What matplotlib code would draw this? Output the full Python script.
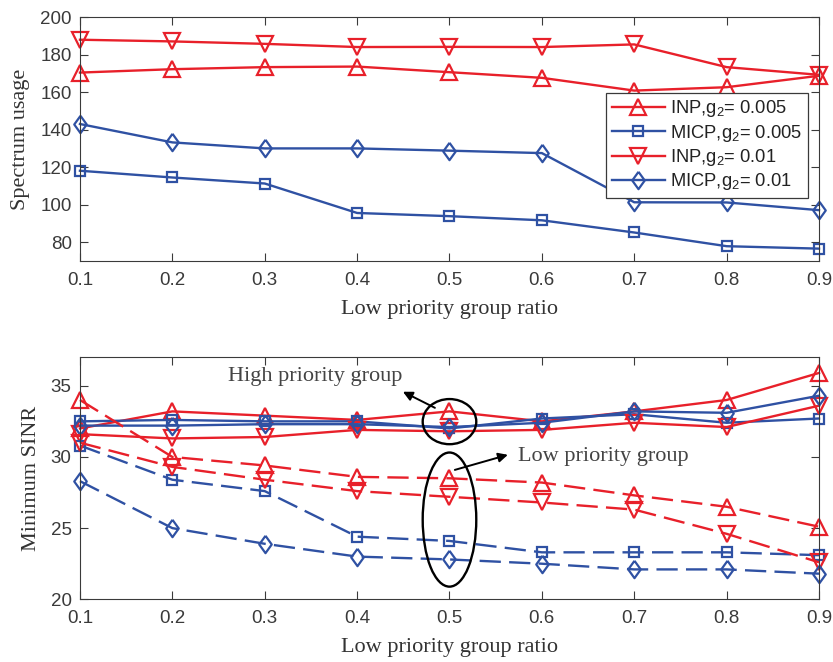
import numpy as np
import matplotlib
matplotlib.use("Agg")
import matplotlib.pyplot as plt
from matplotlib.patches import Ellipse

plt.rcParams['font.family'] = ['Liberation Sans', 'DejaVu Sans']
plt.rcParams['mathtext.fontset'] = 'custom'
plt.rcParams['mathtext.rm'] = 'Liberation Sans'
plt.rcParams['mathtext.it'] = 'Liberation Sans:italic'

# ---- data ----
ratio = [0.1, 0.2, 0.3, 0.4, 0.5, 0.6, 0.7, 0.8, 0.9]

# spectrum usage
usage_inp_005 = [170.4, 172.2, 173.3, 173.6, 170.6, 167.6, 160.8, 162.6, 168.7]
usage_micp_005 = [118.1, 114.5, 111.3, 95.6, 93.9, 91.7, 85.2, 77.9, 76.6]
usage_inp_01 = [187.9, 187.0, 185.7, 184.0, 184.1, 184.0, 185.4, 173.3, 169.2]
usage_micp_01 = [143.0, 133.2, 130.0, 130.0, 128.8, 127.5, 101.3, 101.2, 97.1]

# minimum SINR, high priority group (solid)
sinr_inp_005_high = [32.0, 33.2, 32.9, 32.6, 33.2, 32.5, 33.2, 34.0, 35.9]
sinr_micp_005_high = [32.5, 32.6, 32.5, 32.5, 32.0, 32.7, 33.0, 32.4, 32.7]
sinr_inp_01_high = [31.6, 31.3, 31.4, 31.9, 31.8, 31.9, 32.4, 32.1, 33.6]
sinr_micp_01_high = [32.2, 32.2, 32.3, 32.3, 32.1, 32.4, 33.2, 33.1, 34.3]

# minimum SINR, low priority group (dashed)
sinr_inp_005_low = [34.0, 30.0, 29.4, 28.6, 28.5, 28.2, 27.3, 26.5, 25.1]
sinr_micp_005_low = [30.8, 28.4, 27.6, 24.4, 24.1, 23.3, 23.3, 23.3, 23.1]
sinr_inp_01_low = [31.0, 29.3, 28.4, 27.6, 27.2, 26.8, 26.3, 24.6, 22.6]
sinr_micp_01_low = [28.3, 25.0, 23.9, 23.0, 22.8, 22.5, 22.1, 22.1, 21.8]

labels = ['INP,g$_\\mathrm{2}$= 0.005', 'MICP,g$_\\mathrm{2}$= 0.005',
          'INP,g$_\\mathrm{2}$= 0.01', 'MICP,g$_\\mathrm{2}$= 0.01']

# ---- style ----
red = '#e8202a'
blue = '#2f51a3'
axcol = '#3a3a3a'
diamond = [(0, 1), (0.72, 0), (0, -1), (-0.72, 0), (0, 1)]
styles = [
    dict(color=red, marker='^', ms=11.5),
    dict(color=blue, marker='s', ms=7.5),
    dict(color=red, marker='v', ms=11.5),
    dict(color=blue, marker=diamond, ms=12.5),
]
dash = (9, 3.5)

fig = plt.figure(figsize=(8.33, 6.62), dpi=100)
ax1 = fig.add_axes([0.096, 0.6057, 0.8872, 0.3686])
ax2 = fig.add_axes([0.096, 0.0947, 0.8872, 0.3656])


def draw_line(ax, y, st, dashed=False, label=None):
    line, = ax.plot(ratio, y, color=st['color'], marker=st['marker'],
                    ms=st['ms'], mfc='none', mew=1.6, lw=1.7,
                    clip_on=False, label=label)
    if dashed:
        line.set_dashes(dash)
    return line


# top panel
for y, st, lab in zip([usage_inp_005, usage_micp_005, usage_inp_01, usage_micp_01],
                      styles, labels):
    draw_line(ax1, y, st, label=lab)

leg = ax1.legend(loc='upper right', bbox_to_anchor=(0.985, 0.689),
                 borderaxespad=0, fancybox=False, framealpha=1,
                 edgecolor=axcol, fontsize=13.2, handlelength=2.9,
                 labelspacing=0.18, borderpad=0.3, handletextpad=0.3)
leg.get_frame().set_linewidth(0.9)
for t in leg.get_texts():
    t.set_color('#222222')

ax1.set_ylim(70, 200)
ax1.set_yticks([80, 100, 120, 140, 160, 180, 200])
ax1.set_ylabel('Spectrum usage', family='Liberation Serif', fontsize=16,
               color='#333333', va='center')
ax1.yaxis.set_label_coords(-0.081, 0.5)
ax1.set_xlabel('Low priority group ratio', family='Liberation Serif',
               fontsize=16, color='#333333', va='center')
ax1.xaxis.set_label_coords(0.5, -0.2)

# bottom panel
high = [sinr_inp_005_high, sinr_micp_005_high, sinr_inp_01_high, sinr_micp_01_high]
low = [sinr_inp_005_low, sinr_micp_005_low, sinr_inp_01_low, sinr_micp_01_low]
for y, st in zip(high, styles):
    draw_line(ax2, y, st)
for y, st in zip(low, styles):
    draw_line(ax2, y, st, dashed=True)

ax2.set_ylim(20, 37)
ax2.set_yticks([20, 25, 30, 35])
ax2.set_ylabel('Minimum SINR', family='Liberation Serif', fontsize=16,
               color='#333333', va='center')
ax2.yaxis.set_label_coords(-0.065, 0.5)
ax2.set_xlabel('Low priority group ratio', family='Liberation Serif',
               fontsize=16, color='#333333', va='center')
ax2.xaxis.set_label_coords(0.5, -0.201)

# annotations
ax2.add_patch(Ellipse((0.5, 32.48), 0.058, 3.17, fill=False, ec='k', lw=1.7,
                      zorder=5))
ax2.add_patch(Ellipse((0.5, 25.6), 0.058, 9.42, fill=False, ec='k', lw=1.7,
                      zorder=5))
ax2.annotate('', xy=(0.4496, 34.58), xytext=(0.4842, 33.45),
             arrowprops=dict(arrowstyle='-|>', color='k', lw=1.4,
                             mutation_scale=14, shrinkA=0, shrinkB=0))
ax2.annotate('', xy=(0.5632, 30.15), xytext=(0.5058, 29.09),
             arrowprops=dict(arrowstyle='-|>', color='k', lw=1.4,
                             mutation_scale=14, shrinkA=0, shrinkB=0))
ax2.text(0.3543, 35.66, 'High priority group', family='Liberation Serif',
         fontsize=16, color='#444444', ha='center', va='center')
ax2.text(0.574, 30.0, 'Low priority group', family='Liberation Serif',
         fontsize=16, color='#444444', ha='left', va='center')

for ax in (ax1, ax2):
    ax.set_xlim(0.1, 0.9)
    ax.set_xticks(ratio)
    ax.set_xticklabels([f'{v:.1f}' for v in ratio])
    ax.tick_params(direction='in', length=5.5, width=0.8, top=True,
                   right=True, labelsize=13.5, colors=axcol)
    ax.tick_params(axis='x', pad=8)
    ax.tick_params(axis='y', pad=6)
    for sp in ax.spines.values():
        sp.set_color(axcol)
        sp.set_linewidth(0.8)

fig.savefig('out.png', dpi=100)
